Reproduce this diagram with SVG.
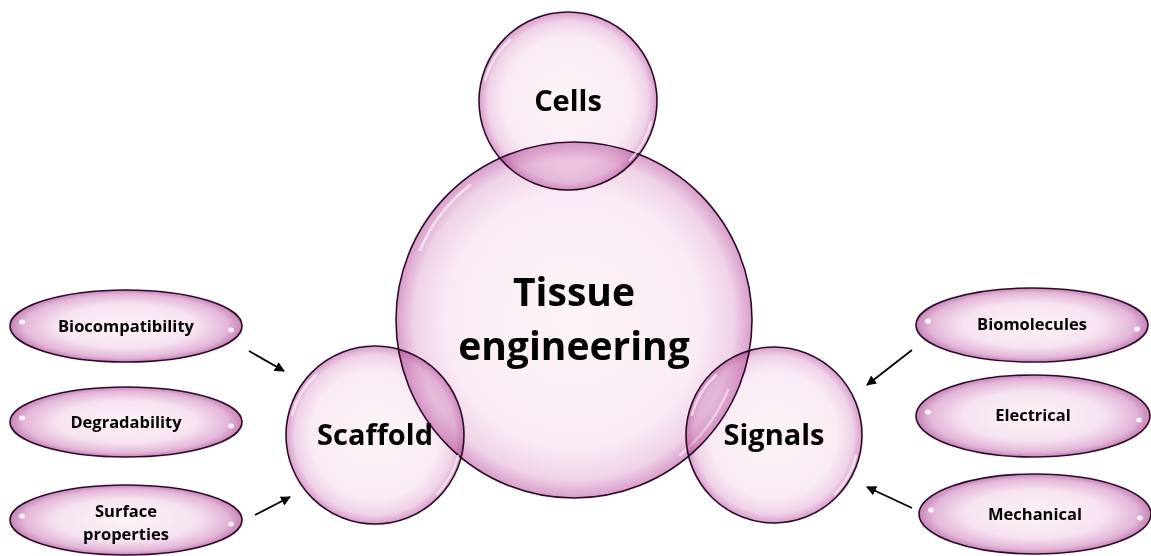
<svg xmlns="http://www.w3.org/2000/svg" width="1151" height="556" viewBox="0 0 1151 556">
<defs>
<radialGradient id="gc" cx="50%" cy="50%" r="50%">
<stop offset="0" stop-color="#fcf4f9"/>
<stop offset="0.72" stop-color="#f9ebf4"/>
<stop offset="0.9" stop-color="#efd2e7"/>
<stop offset="1" stop-color="#d99dcb"/>
</radialGradient>
<radialGradient id="ge" cx="50%" cy="50%" r="50%">
<stop offset="0" stop-color="#fcf3f9"/>
<stop offset="0.6" stop-color="#f6e3f0"/>
<stop offset="0.88" stop-color="#e3b6d8"/>
<stop offset="1" stop-color="#c684b8"/>
</radialGradient>
<marker id="ah" viewBox="0 0 10 10" refX="9" refY="5" markerWidth="10" markerHeight="10" markerUnits="userSpaceOnUse" orient="auto">
<path d="M0,0 L10,5 L0,10 z" fill="#000"/>
</marker>
</defs>
<style>
.c{fill:url(#gc);stroke:#2e0a28;stroke-width:1.6;mix-blend-mode:multiply}
.e{fill:url(#ge);stroke:#2e0a28;stroke-width:1.6}
.t{font-family:"Open Sans",Lato,sans-serif;font-weight:700;fill:#000;text-anchor:middle}
.s{font-size:16.5px}
.gl{fill:none;stroke:#fff;stroke-width:2.5;stroke-linecap:round;opacity:0.6}
.dot{fill:#fff;opacity:0.85}
.conn line{stroke:#000;stroke-width:1.8;marker-end:url(#ah)}
</style>
<rect width="1151" height="556" fill="#fff"/>
<g id="node-tissue">
<circle class="c" cx="574" cy="320" r="178"/>
<path class="gl" d="M420,250 A168,168 0 0 1 470,185"/>
<path class="gl" d="M728,390 A168,168 0 0 1 680,455"/>
<text class="t" x="574" y="306" font-size="39">Tissue</text>
<text class="t" x="574" y="360" font-size="39">engineering</text>
</g>
<g id="node-cells">
<circle class="c" cx="568" cy="101" r="89"/>
<path class="gl" d="M485,80 A84,84 0 0 1 510,40"/>
<path class="gl" d="M651,122 A84,84 0 0 1 630,160"/>
<text class="t" x="568" y="111" font-size="29">Cells</text>
</g>
<g id="node-scaffold">
<circle class="c" cx="375" cy="435" r="89"/>
<path class="gl" d="M292,415 A84,84 0 0 1 316,375"/>
<path class="gl" d="M458,456 A84,84 0 0 1 437,494"/>
<text class="t" x="375" y="445" font-size="29">Scaffold</text>
</g>
<g id="node-signals">
<circle class="c" cx="774" cy="435" r="88"/>
<path class="gl" d="M692,415 A83,83 0 0 1 716,375"/>
<path class="gl" d="M856,456 A83,83 0 0 1 835,494"/>
<text class="t" x="774" y="445" font-size="29">Signals</text>
</g>
<g id="node-biocompatibility">
<ellipse class="e" cx="126" cy="326" rx="116" ry="36"/>
<ellipse class="dot" cx="22" cy="322" rx="3" ry="2.5"/>
<ellipse class="dot" cx="231" cy="330" rx="3" ry="2.5"/>
<text class="t s" x="126" y="332">Biocompatibility</text>
</g>
<g id="node-degradability">
<ellipse class="e" cx="126" cy="422" rx="116" ry="35"/>
<ellipse class="dot" cx="22" cy="418" rx="3" ry="2.5"/>
<ellipse class="dot" cx="231" cy="426" rx="3" ry="2.5"/>
<text class="t s" x="126" y="428">Degradability</text>
</g>
<g id="node-surface">
<ellipse class="e" cx="126" cy="520" rx="116" ry="35"/>
<ellipse class="dot" cx="22" cy="516" rx="3" ry="2.5"/>
<ellipse class="dot" cx="231" cy="524" rx="3" ry="2.5"/>
<text class="t s" x="126" y="517">Surface</text>
<text class="t s" x="126" y="540">properties</text>
</g>
<g id="node-biomolecules">
<ellipse class="e" cx="1032" cy="325" rx="116" ry="37"/>
<ellipse class="dot" cx="928" cy="321" rx="3" ry="2.5"/>
<ellipse class="dot" cx="1137" cy="329" rx="3" ry="2.5"/>
<text class="t s" x="1032" y="330">Biomolecules</text>
</g>
<g id="node-electrical">
<ellipse class="e" cx="1033" cy="416" rx="117" ry="41"/>
<ellipse class="dot" cx="928" cy="412" rx="3" ry="2.5"/>
<ellipse class="dot" cx="1139" cy="420" rx="3" ry="2.5"/>
<text class="t s" x="1033" y="421">Electrical</text>
</g>
<g id="node-mechanical">
<ellipse class="e" cx="1035" cy="514" rx="116" ry="40"/>
<ellipse class="dot" cx="931" cy="510" rx="3" ry="2.5"/>
<ellipse class="dot" cx="1140" cy="518" rx="3" ry="2.5"/>
<text class="t s" x="1035" y="520">Mechanical</text>
</g>
<g class="conn" id="connectors">
<line x1="249" y1="351" x2="284" y2="371"/>
<line x1="255" y1="515" x2="290" y2="497"/>
<line x1="912" y1="350" x2="867" y2="385"/>
<line x1="912" y1="508" x2="867" y2="487"/>
</g>
</svg>
